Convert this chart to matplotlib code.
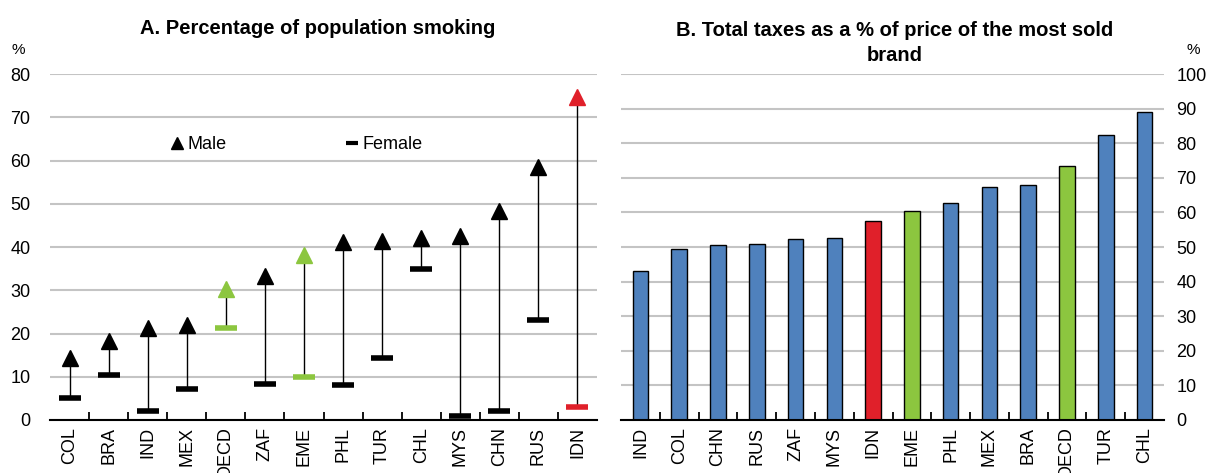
import matplotlib.pyplot as plt
from matplotlib.lines import Line2D

plt.rcParams['font.family'] = ['Liberation Sans Narrow', 'Liberation Sans', 'DejaVu Sans']

# panel A data
countries_a = ['COL', 'BRA', 'IND', 'MEX', 'OECD', 'ZAF', 'EME', 'PHL', 'TUR', 'CHL', 'MYS', 'CHN', 'RUS', 'IDN']
male = [14.3, 18.2, 21.2, 22.0, 30.3, 33.2, 38.2, 41.2, 41.4, 42.1, 42.6, 48.3, 58.5, 74.7]
female = [5.1, 10.5, 2.1, 7.2, 21.2, 8.3, 9.9, 8.1, 14.3, 35.0, 1.0, 2.0, 23.2, 2.9]

# panel B data
countries_b = ['IND', 'COL', 'CHN', 'RUS', 'ZAF', 'MYS', 'IDN', 'EME', 'PHL', 'MEX', 'BRA', 'OECD', 'TUR', 'CHL']
taxes = [43.2, 49.4, 50.7, 50.9, 52.3, 52.7, 57.4, 60.5, 62.6, 67.2, 67.9, 73.4, 82.3, 88.9]

BLUE = '#4F81BD'
GREEN = '#8CC63F'
RED = '#E0202A'
GRID = '#C4C4C4'
special = {'OECD': GREEN, 'EME': GREEN, 'IDN': RED}

fig = plt.figure(figsize=(12.14, 4.73), dpi=100)
axA = fig.add_axes([50 / 1214, 1 - 420 / 473, 547 / 1214, 346 / 473])
axB = fig.add_axes([621 / 1214, 1 - 420 / 473, 543 / 1214, 346 / 473])


def style(ax, n, labels):
    ax.set_xlim(-0.5, n - 0.5)
    for s in ['left', 'right', 'top']:
        ax.spines[s].set_visible(False)
    ax.spines['bottom'].set_linewidth(1.5)
    ax.yaxis.grid(True, color=GRID, linewidth=1.5)
    ax.set_axisbelow(True)
    ax.set_xticks(range(n))
    ax.set_xticklabels(labels, rotation=90, fontsize=13)
    ax.set_xticks([i - 0.5 for i in range(1, n)], minor=True)
    ax.tick_params(axis='x', which='major', length=0, pad=5)
    ax.tick_params(axis='x', which='minor', direction='in', length=6, width=1.3)
    ax.tick_params(axis='y', length=0, labelsize=13)


# panel A
for i, c in enumerate(countries_a):
    col = special.get(c, 'black')
    axA.plot([i, i], [female[i], male[i]], color='black', linewidth=1, zorder=2)
    axA.plot(i, male[i], marker='^', markersize=11, color=col, linestyle='none', zorder=3)
    axA.plot(i, female[i], marker='_', markersize=16, markeredgewidth=4, color=col,
             linestyle='none', zorder=3)
axA.set_ylim(0, 80)
axA.set_yticks(range(0, 81, 10))
style(axA, len(countries_a), countries_a)
axA.tick_params(axis='y', pad=14)

handles = [Line2D([], [], marker='^', color='black', linestyle='none', markersize=9),
           Line2D([], [], marker='_', color='black', linestyle='none', markersize=9,
                  markeredgewidth=3)]
axA.legend(handles, ['Male', 'Female'], ncol=2, frameon=False, fontsize=13,
           loc='center', bbox_to_anchor=(0.45, 0.795), handlelength=0.8,
           handletextpad=0.2, columnspacing=6.5)

# panel B
bar_colors = [special.get(c, BLUE) for c in countries_b]
axB.bar(range(len(countries_b)), taxes, width=0.4, color=bar_colors,
        edgecolor='black', linewidth=1, zorder=2)
axB.set_ylim(0, 100)
axB.set_yticks(range(0, 101, 10))
style(axB, len(countries_b), countries_b)
axB.yaxis.tick_right()
axB.tick_params(axis='y', pad=9)

fig.text(18 / 1214, 1 - 50 / 473, '%', fontsize=11, ha='center', va='center')
fig.text(1193 / 1214, 1 - 50 / 473, '%', fontsize=11, ha='center', va='center')

fig.text(318 / 1214, 1 - 28 / 473, 'A. Percentage of population smoking',
         fontsize=14.5, fontweight='bold', ha='center', va='center')
fig.text(895 / 1214, 1 - 43 / 473, 'B. Total taxes as a % of price of the most sold\nbrand',
         fontsize=14.5, fontweight='bold', ha='center', va='center', linespacing=1.45)

fig.savefig('out.png', dpi=100)
